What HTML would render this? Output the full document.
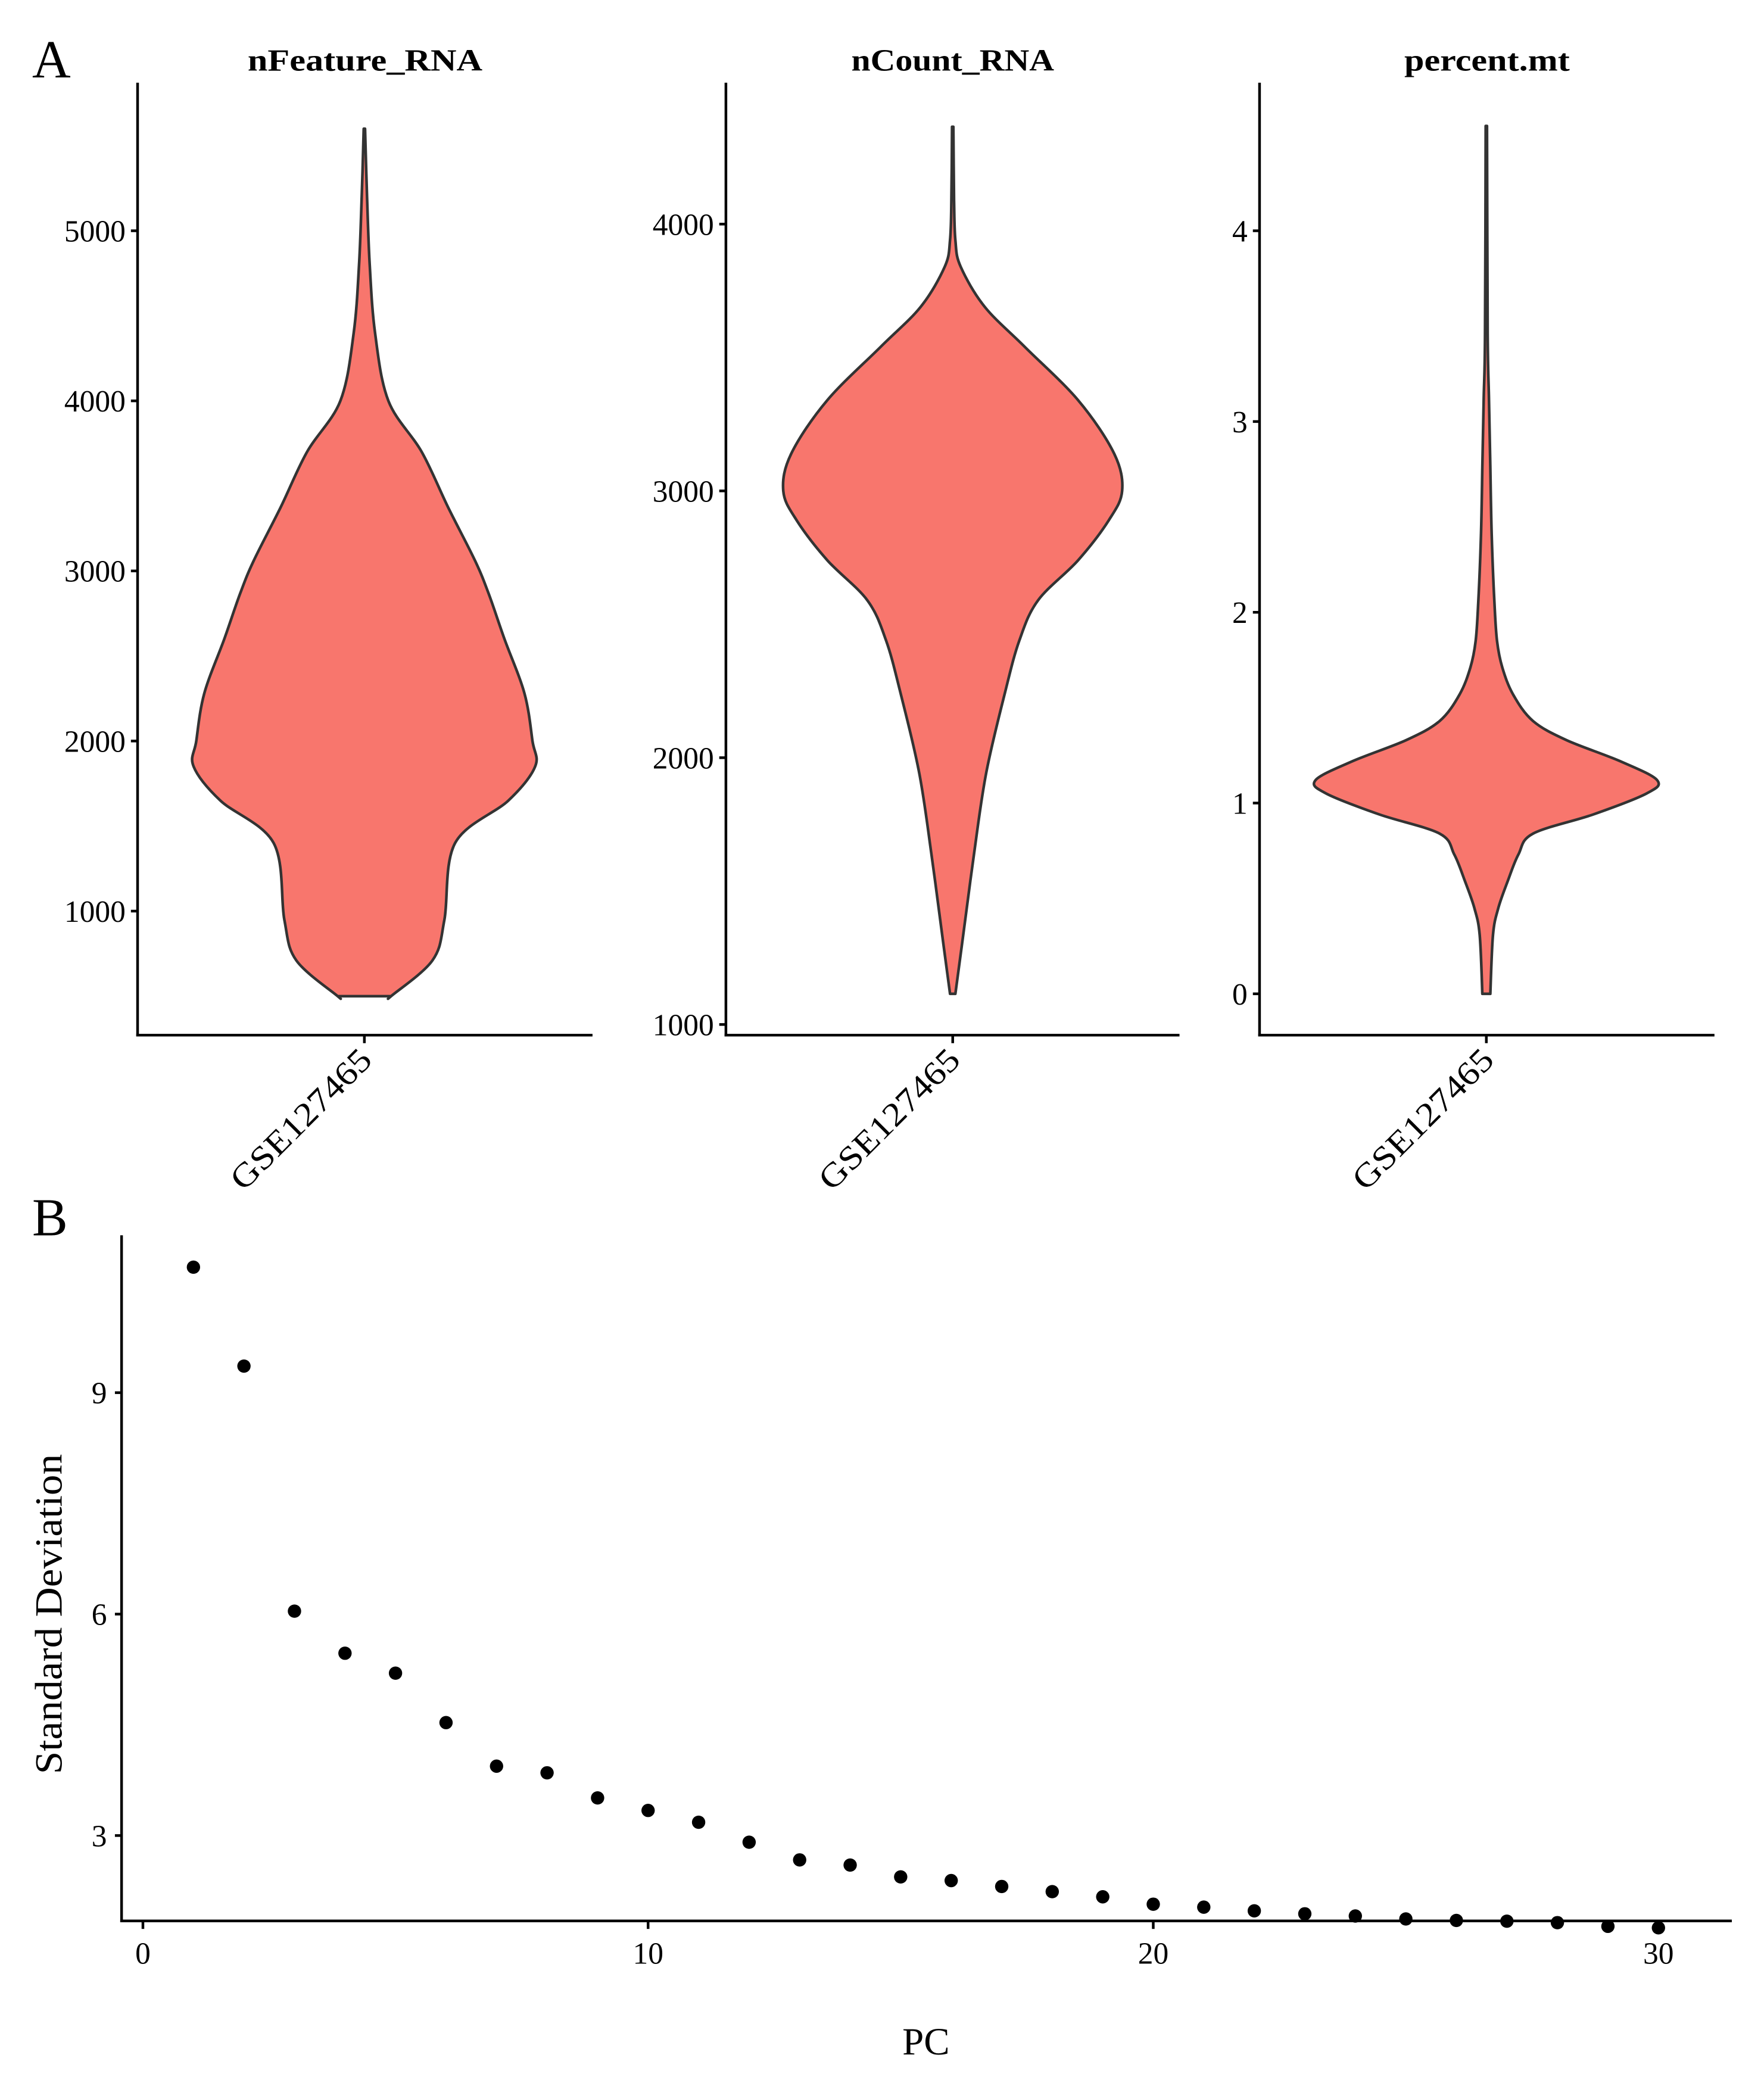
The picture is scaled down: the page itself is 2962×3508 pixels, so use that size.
<!DOCTYPE html>
<html><head><meta charset="utf-8"><style>
html,body{margin:0;padding:0;background:#fff}
svg{display:block}
text{font-family:"Liberation Serif",serif;fill:#000}
</style></head><body>
<svg id="fig" width="2962" height="3508" viewBox="0 0 1322 1566" xmlns="http://www.w3.org/2000/svg">
<g id="root"></g>
</svg>
<script>
// Panel A data: violin density profiles (value, half-width)
const p1Values = [500,500,710,950,1400,1650,1850,2000,2280,2600,2870,3060,3370,3700,4000,4400,4800,5200,5600];
const p1Widths = [20,20,51,60,68,108,128,126,120,105,93,83,63,43,18,8,4,2,0.5];
const p2Values = [1115,1340,1640,1940,2240,2440,2590,2740,2890,3000,3140,3340,3540,3690,3840,3940,4090,4365];
const p2Widths = [2,8,16,25,39,50,64,94,117,127,121,94,54,24,6,2,1,0.5];
const p3Values = [0,0.31,0.45,0.59,0.73,0.84,0.94,1.05,1.12,1.22,1.33,1.43,1.57,1.71,1.85,2.06,2.41,2.76,3.11,3.46,4.55];
const p3Widths = [3,5,9,16,24,35,80,120,128,100,60,35,20,12,8,6,4,3,2,1,0.5];
const p1Ticks = [1000,2000,3000,4000,5000];
const p2Ticks = [1000,2000,3000,4000];
const p3Ticks = [0,1,2,3,4];
// Panel B data: elbow plot
const pcs = [1,2,3,4,5,6,7,8,9,10,11,12,13,14,15,16,17,18,19,20,21,22,23,24,25,26,27,28,29,30];
const stdev = [10.70,9.36,6.04,5.47,5.20,4.53,3.94,3.85,3.51,3.34,3.18,2.91,2.67,2.60,2.44,2.39,2.31,2.24,2.17,2.07,2.03,1.98,1.94,1.91,1.87,1.85,1.84,1.82,1.77,1.75];
const pcTicks = [0,10,20,30];
const sdTicks = [3,6,9];

const NS="http://www.w3.org/2000/svg";
const root=document.getElementById('root');
function mk(tag,attrs,parent){const e=document.createElementNS(NS,tag);for(const k in attrs)e.setAttribute(k,attrs[k]);(parent||root).appendChild(e);return e;}
function txt(s,attrs,parent){const e=mk('text',attrs,parent);e.textContent=s;return e;}
function smooth(pts){
  let d='M'+pts[0][0].toFixed(1)+','+pts[0][1].toFixed(1);
  for(let i=0;i<pts.length-1;i++){
    const p0=pts[Math.max(0,i-1)],p1=pts[i],p2=pts[i+1],p3=pts[Math.min(pts.length-1,i+2)];
    const c1=[p1[0]+(p2[0]-p0[0])/6,p1[1]+(p2[1]-p0[1])/6];
    const c2=[p2[0]-(p3[0]-p1[0])/6,p2[1]-(p3[1]-p1[1])/6];
    d+=' C'+c1[0].toFixed(1)+','+c1[1].toFixed(1)+' '+c2[0].toFixed(1)+','+c2[1].toFixed(1)+' '+p2[0].toFixed(1)+','+p2[1].toFixed(1);
  }
  return d;
}

const lA=txt('A',{x:24,y:58,'font-size':40});



const panels=[
 {title:'nFeature_RNA',tw:176,ax:103,right:444,cx:273,v0:1000,y0:683,v1:5000,y1:173,vals:p1Values,w:p1Widths,ticks:p1Ticks,name:'nfeature'},
 {title:'nCount_RNA',tw:152,ax:544,right:884,cx:714,v0:1000,y0:768,v1:4000,y1:168,vals:p2Values,w:p2Widths,ticks:p2Ticks,name:'ncount'},
 {title:'percent.mt',tw:124,ax:944,right:1285,cx:1114,v0:0,y0:745,v1:4,y1:173,vals:p3Values,w:p3Widths,ticks:p3Ticks,name:'percent-mt'}
];
panels.forEach(p=>{
  const g=mk('g',{});
  
  
  const y=v=>p.y0+(v-p.v0)*(p.y1-p.y0)/(p.v1-p.v0);
  const t=txt(p.title,{x:(p.ax+p.right)/2,y:53,'font-size':23,'font-weight':'bold','text-anchor':'middle',textLength:p.tw,lengthAdjust:'spacingAndGlyphs'},g);
  
  
  let left=[],right=[];
  for(let i=0;i<p.vals.length;i++){left.push([p.cx-p.w[i],y(p.vals[i])]);right.push([p.cx+p.w[i],y(p.vals[i])]);}
  const d=smooth(left)+' L'+smooth(right.reverse()).slice(1)+' Z';
  const vio=mk('path',{d:d,fill:'#F8766D','stroke':'#333','stroke-width':2,'stroke-linejoin':'round'},g);
  
  
  const ya=mk('line',{x1:p.ax,y1:62,x2:p.ax,y2:777,stroke:'#000','stroke-width':2},g);
  
  
  const xa=mk('line',{x1:p.ax-1,y1:776,x2:p.right,y2:776,stroke:'#000','stroke-width':2},g);
  
  
  p.ticks.forEach(tv=>{
    const yy=y(tv);
    mk('line',{x1:p.ax-5,y1:yy,x2:p.ax,y2:yy,stroke:'#000','stroke-width':2},g);
    const tl=txt(String(tv),{x:p.ax-9,y:yy+8,'font-size':23,'text-anchor':'end'},g);
    
    
  });
  mk('line',{x1:p.cx,y1:776,x2:p.cx,y2:782,stroke:'#000','stroke-width':2},g);
  const xl=txt('GSE127465',{x:0,y:0,'font-size':25,'text-anchor':'end',textLength:138,lengthAdjust:'spacingAndGlyphs',transform:`translate(${p.cx+7},${796}) rotate(-45)`},g);
  
  
});

// Panel B
const lB=txt('B',{x:24,y:926,'font-size':40});


const gB=mk('g',{});


const xs=v=>107+v*(1243-107)/30;
const ys=v=>1376+(v-3)*(1044-1376)/6;
const yax=mk('line',{x1:91,y1:926,x2:91,y2:1441,stroke:'#000','stroke-width':2},gB);


const xax=mk('line',{x1:90,y1:1440,x2:1298,y2:1440,stroke:'#000','stroke-width':2},gB);


pcTicks.forEach(v=>{
  mk('line',{x1:xs(v),y1:1440,x2:xs(v),y2:1446,stroke:'#000','stroke-width':2},gB);
  const t=txt(String(v),{x:xs(v),y:1472,'font-size':23,'text-anchor':'middle'},gB);
  
  
});
sdTicks.forEach(v=>{
  mk('line',{x1:86,y1:ys(v),x2:91,y2:ys(v),stroke:'#000','stroke-width':2},gB);
  const t=txt(String(v),{x:80,y:ys(v)+8,'font-size':23,'text-anchor':'end'},gB);
  
  
});
const xt=txt('PC',{x:694,y:1540,'font-size':29,'text-anchor':'middle'},gB);


const yt=txt('Standard Deviation',{x:0,y:0,'font-size':29,'text-anchor':'middle',textLength:240,lengthAdjust:'spacingAndGlyphs',transform:'translate(46,1210) rotate(-90)'},gB);


pcs.forEach((pc,i)=>{
  const c=mk('circle',{cx:xs(pc),cy:ys(stdev[i]),r:5,fill:'#000'},gB);
  
  
});
</script>
</body></html>
